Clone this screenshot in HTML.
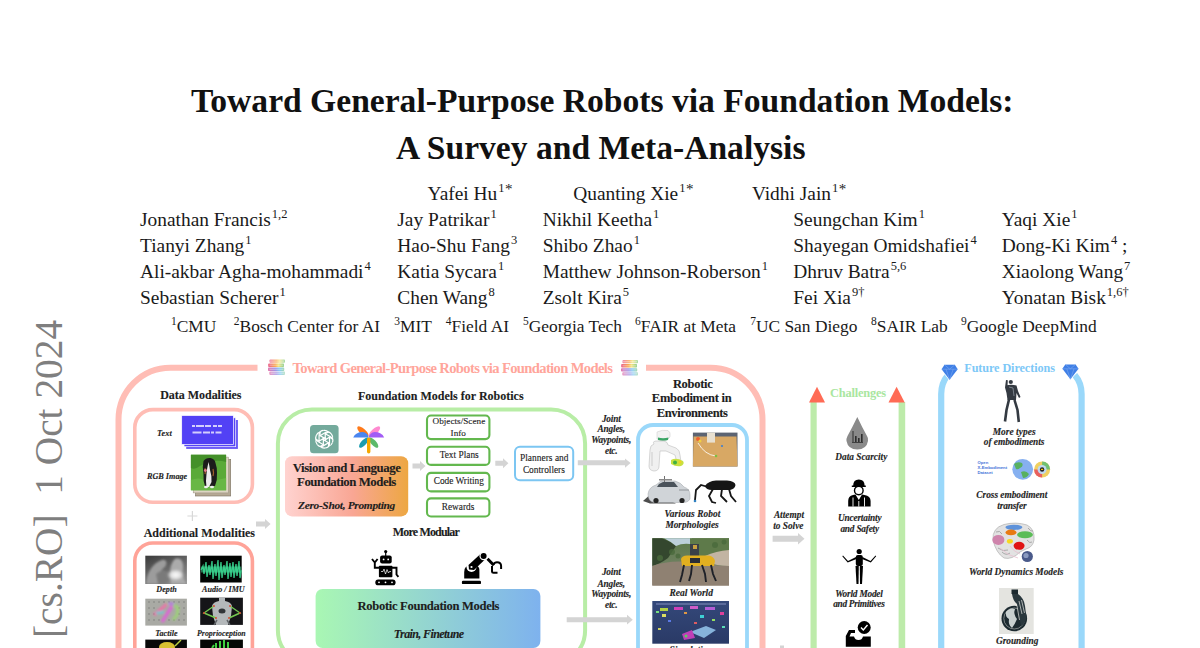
<!DOCTYPE html>
<html><head><meta charset="utf-8">
<style>
*{margin:0;padding:0;box-sizing:border-box}
html,body{width:1200px;height:648px;overflow:hidden;background:#fff}
body{position:relative;font-family:"Liberation Serif",serif;color:#000}
.a{position:absolute;white-space:nowrap;line-height:1}
.t{font-weight:bold;font-size:33.6px;color:#111}
.au{font-size:19.4px;color:#1a1a1a}
.au sup,.af sup{font-size:12.5px;vertical-align:0;position:relative;top:-8px;margin-left:1px}
.af{font-size:17.4px;color:#1a1a1a}
.af sup{font-size:11.5px;top:-7px}
#fig{position:absolute;left:0;top:0}
.b{font-weight:bold;color:#222;letter-spacing:-0.02em}
.c{text-align:center}
.bi{font-weight:bold;font-style:italic;color:#222}
.fx div{-webkit-text-stroke:0.12px currentColor}
</style></head><body>
<div class="a t" style="left:191px;top:84.4px">Toward General-Purpose Robots via Foundation Models:</div>
<div class="a t" style="left:396px;top:130.9px">A Survey and Meta-Analysis</div>

<div class="a au" style="left:427.6px;top:183.7px">Yafei Hu<sup>1<span style="position:relative;top:2.5px;font-size:15px;margin-left:0.5px">*</span></sup></div>
<div class="a au" style="left:573.2px;top:183.7px">Quanting Xie<sup>1<span style="position:relative;top:2.5px;font-size:15px;margin-left:0.5px">*</span></sup></div>
<div class="a au" style="left:751.9px;top:183.7px">Vidhi Jain<sup>1<span style="position:relative;top:2.5px;font-size:15px;margin-left:0.5px">*</span></sup></div>

<div class="a au" style="left:140px;top:209.6px">Jonathan Francis<sup>1,2</sup></div>
<div class="a au" style="left:140px;top:235.7px">Tianyi Zhang<sup>1</sup></div>
<div class="a au" style="left:140px;top:261.7px">Ali-akbar Agha-mohammadi<sup>4</sup></div>
<div class="a au" style="left:140px;top:287.8px">Sebastian Scherer<sup>1</sup></div>

<div class="a au" style="left:397.3px;top:209.6px">Jay Patrikar<sup>1</sup></div>
<div class="a au" style="left:397.3px;top:235.7px">Hao-Shu Fang<sup>3</sup></div>
<div class="a au" style="left:397.3px;top:261.7px">Katia Sycara<sup>1</sup></div>
<div class="a au" style="left:397.3px;top:287.8px">Chen Wang<sup>8</sup></div>

<div class="a au" style="left:542.7px;top:209.6px">Nikhil Keetha<sup>1</sup></div>
<div class="a au" style="left:542.7px;top:235.7px">Shibo Zhao<sup>1</sup></div>
<div class="a au" style="left:542.7px;top:261.7px">Matthew Johnson-Roberson<sup>1</sup></div>
<div class="a au" style="left:542.7px;top:287.8px">Zsolt Kira<sup>5</sup></div>

<div class="a au" style="left:793.3px;top:209.6px">Seungchan Kim<sup>1</sup></div>
<div class="a au" style="left:793.3px;top:235.7px">Shayegan Omidshafiei<sup>4</sup></div>
<div class="a au" style="left:793.3px;top:261.7px">Dhruv Batra<sup>5,6</sup></div>
<div class="a au" style="left:793.3px;top:287.8px">Fei Xia<sup>9&#8224;</sup></div>

<div class="a au" style="left:1001.7px;top:209.6px">Yaqi Xie<sup>1</sup></div>
<div class="a au" style="left:1001.7px;top:235.7px">Dong-Ki Kim<sup>4</sup> ;</div>
<div class="a au" style="left:1001.7px;top:261.7px">Xiaolong Wang<sup>7</sup></div>
<div class="a au" style="left:1001.7px;top:287.8px">Yonatan Bisk<sup>1,6&#8224;</sup></div>

<div class="a af" style="left:170px;top:318.4px"><sup>1</sup>CMU</div>
<div class="a af" style="left:232.8px;top:318.4px"><sup>2</sup>Bosch Center for AI</div>
<div class="a af" style="left:393.2px;top:318.4px"><sup>3</sup>MIT</div>
<div class="a af" style="left:444.8px;top:318.4px"><sup>4</sup>Field AI</div>
<div class="a af" style="left:522px;top:318.4px"><sup>5</sup>Georgia Tech</div>
<div class="a af" style="left:634px;top:318.4px"><sup>6</sup>FAIR at Meta</div>
<div class="a af" style="left:749.2px;top:318.4px"><sup>7</sup>UC San Diego</div>
<div class="a af" style="left:870px;top:318.4px"><sup>8</sup>SAIR Lab</div>
<div class="a af" style="left:960px;top:318.4px"><sup>9</sup>Google DeepMind</div>

<!-- arXiv sidebar -->
<div class="a" style="left:29.4px;top:637.5px;transform-origin:0 0;transform:rotate(-90deg) scaleX(0.984);font-size:40px;color:#7f7f7f;">
<span style="display:inline-block;">[cs.RO]&nbsp;&nbsp;1 Oct 2024</span></div>

<svg id="fig" width="1200" height="648" viewBox="0 0 1200 648">
<defs>
<linearGradient id="gv" x1="0" x2="1" y1="0" y2="0"><stop offset="0" stop-color="#FFD3D0"/><stop offset="0.55" stop-color="#F9A694"/><stop offset="1" stop-color="#EDA742"/></linearGradient>
<linearGradient id="gr" x1="0" x2="1" y1="0" y2="0"><stop offset="0" stop-color="#A9F7B3"/><stop offset="1" stop-color="#7EB2EE"/></linearGradient>
<linearGradient id="gb" x1="0" x2="1" y1="0" y2="1"><stop offset="0" stop-color="#F47070"/><stop offset="0.35" stop-color="#F8D060"/><stop offset="0.6" stop-color="#80D8A0"/><stop offset="1" stop-color="#6088E0"/></linearGradient>
</defs>
<g fill="none" stroke="#FFBDB5" stroke-width="6">
<path d="M257.5 367.7H170.5A52 52 0 0 0 118.5 419.7V720"/>
<path d="M646 367.7H710.5A52 52 0 0 1 762.5 419.7V720"/>
</g>
<g fill="none" stroke="#FFBDB5" stroke-width="3.6">
<rect x="134.8" y="409.6" width="117.6" height="92.6" rx="18"/>
<rect x="134.8" y="543" width="117.6" height="200" rx="18" stroke="#FFA398"/>
</g>
<rect x="277.9" y="409.4" width="307.2" height="255" rx="34" fill="none" stroke="#B8EDA6" stroke-width="4"/>
<rect x="638" y="425" width="109" height="300" rx="15" fill="none" stroke="#9AD8FA" stroke-width="3.8"/>
<!-- challenges bars -->
<rect x="810.5" y="402" width="6.2" height="260" fill="#BDEBAA"/>
<rect x="898.6" y="402" width="6.6" height="260" fill="#BDEBAA"/>
<path d="M809 402.4L817 386.7L825 402.4Z" fill="#FF6B55"/>
<path d="M888.5 402.4L896.6 386.7L904.7 402.4Z" fill="#FF6B55"/>
<!-- future bars -->
<g fill="none" stroke="#9AD8FA" stroke-width="6.2">
<path d="M941.2 720V394Q941.2 383 948 375"/>
<path d="M1081.6 720V394Q1081.6 383 1074.8 375"/>
</g>
<!-- gradient boxes -->
<rect x="285" y="456.2" width="123.2" height="60.2" rx="7" fill="url(#gv)"/>
<rect x="315.6" y="589" width="224.8" height="59" rx="7" fill="url(#gr)"/>
<!-- small green boxes -->
<g fill="#fff" stroke="#63B84E" stroke-width="2.1">
<rect x="427" y="415.5" width="62.4" height="23.6" rx="4"/>
<rect x="427" y="446.8" width="62.4" height="18.1" rx="4"/>
<rect x="427" y="472.9" width="62.4" height="18.5" rx="4"/>
<rect x="427" y="498.4" width="62.4" height="18.1" rx="4"/>
</g>
<rect x="515" y="446.8" width="58.2" height="33.5" rx="5" fill="#fff" stroke="#7CC6F2" stroke-width="2"/>
<!-- arrows -->
<g fill="#D4D4D4">
<path d="M256 521.4H265V518.9L270.6 523.9L265 528.9V526.4H256Z"/>
<path d="M412.5 463.5H420V461L425.5 466L420 471V468.5H412.5Z"/>
<path d="M495.3 460.7H503V458.2L508.4 463.2L503 468.2V465.7H495.3Z"/>
<path d="M577.8 460.3H625V458.4L630.6 463L625 467.8V465.3H577.8Z"/>
<path d="M566.7 617.2H627V614.8L632.8 619.7L627 624.6V622.2H566.7Z"/>
<path d="M772.6 535.8H798V533L804.5 538.8L798 544.5V541.8H772.6Z"/>
<rect x="780" y="645.5" width="4" height="3"/>
<path d="M187.4 515.4h4.4v-4.4h1.2v4.4h4.4v1.2h-4.4v4.4h-1.2v-4.4h-4.4z" fill="#D8D8D8"/>
</g>
<!-- text card stack -->
<rect x="186.2" y="420" width="51.7" height="28.9" fill="#6655F6"/>
<rect x="184" y="417.8" width="51.7" height="28.9" fill="#5544F5" stroke="#fff" stroke-width="0.7"/>
<rect x="181.7" y="415.5" width="51.7" height="28.9" fill="#5241F5" stroke="#fff" stroke-width="0.7"/>
<g fill="#fff" opacity="0.75">
<rect x="192" y="425" width="3" height="2"/><rect x="196" y="425" width="8" height="2"/><rect x="205" y="425" width="6" height="2"/><rect x="213" y="425" width="4" height="2"/><rect x="218" y="425" width="4" height="2"/>
<rect x="192.5" y="431.5" width="9" height="2"/><rect x="203" y="431.5" width="7" height="2"/><rect x="211" y="431.5" width="3" height="2"/><rect x="215.5" y="431.5" width="6" height="2"/>
</g>
<!-- dog photo stack -->
<rect x="195.5" y="459.5" width="35.2" height="36.5" fill="#B5A994" stroke="#7A7060" stroke-width="0.6"/>
<rect x="193.2" y="457.1" width="35.2" height="35.8" fill="#DDD5C3" stroke="#9A9080" stroke-width="0.5"/>
<rect x="190.9" y="454.7" width="35.2" height="35.6" fill="#5AAA38"/>
<path d="M190.9 454.7H226.1V462Q214 458 200 466Q195 470 190.9 468Z" fill="#3E8A26" opacity="0.8"/>
<path d="M190.9 480Q200 476 208 482L226.1 478V490.3H190.9Z" fill="#6CBA48" opacity="0.8"/>
<path d="M203.5 461Q206 457.5 210.5 458Q215 459 215.5 463Q217 467 217 473Q217.5 480 215 486H205Q203 481 203.5 474Q202 467 203.5 461Z" fill="#1C1C1C"/>
<path d="M208.5 462Q209.5 466 210 470Q212 476 211.5 482L209 487H206.5Q205.5 481 206.5 474Q207 468 208.5 462Z" fill="#EDEDED"/>
<path d="M205 468Q206 471 205 474" stroke="#A0602A" stroke-width="1.2" fill="none"/>
<path d="M213 469Q214 473 213 476" stroke="#A0602A" stroke-width="1.2" fill="none"/>
<ellipse cx="205.4" cy="470.5" rx="1.5" ry="1.4" fill="#E07C86"/>
<ellipse cx="206" cy="487" rx="2" ry="1.3" fill="#F0F0F0"/><ellipse cx="212" cy="487" rx="2" ry="1.3" fill="#F0F0F0"/>
<!-- depth -->
<defs>
<radialGradient id="dp1" cx="0.73" cy="0.68" r="0.22"><stop offset="0" stop-color="#FFFFFF"/><stop offset="0.6" stop-color="#E8E8E8" stop-opacity="0.8"/><stop offset="1" stop-color="#B0B0B0" stop-opacity="0"/></radialGradient>
<linearGradient id="dp0" x1="0" y1="0" x2="0.6" y2="1"><stop offset="0" stop-color="#3A3A3A"/><stop offset="1" stop-color="#8A8A8A"/></linearGradient>
<filter id="bl" x="-10%" y="-10%" width="120%" height="120%"><feGaussianBlur stdDeviation="0.9"/></filter>
<filter id="bl2" x="-10%" y="-30%" width="120%" height="160%"><feGaussianBlur stdDeviation="0.5"/></filter>
<clipPath id="cpd"><rect x="145.3" y="555.7" width="41.6" height="28.3"/></clipPath>
<clipPath id="cpa"><rect x="200.2" y="555.7" width="41.5" height="26.8"/></clipPath>
</defs>
<rect x="145.3" y="555.7" width="41.6" height="28.3" fill="url(#dp0)"/>
<g clip-path="url(#cpd)" filter="url(#bl)">
<path d="M146 584C147 572 153 563 162 560C166 559 168 563 165 567C160 570 158 577 160 584Z" fill="#9C9C9C"/>
<path d="M156 574Q162 568 168 572Q170 578 166 584H158Z" fill="#7A7A7A"/>
<path d="M171 584C169 574 170 563 175 559C181 557 184 562 183 569C182 576 184 580 186.9 584Z" fill="#ABABAB"/>
<rect x="145.3" y="555.7" width="41.6" height="28.3" fill="url(#dp1)"/>
</g>
<!-- audio -->
<rect x="200.2" y="555.7" width="41.5" height="26.8" fill="#030503"/>
<g clip-path="url(#cpa)" filter="url(#bl2)">
<path d="M201 570L203 566L204 574L206 562L207 577L209 565L210 575L212 561L213 579L215 564L216 576L218 560L219 580L221 562L222 578L224 565L225 575L227 561L228 579L230 563L231 577L233 562L234 578L236 564L237 576L239 561L240 578L241.5 570" fill="none" stroke="#38D892" stroke-width="1.4" opacity="0.85"/>
<rect x="201" y="566.5" width="40.5" height="6" fill="#40E09A" opacity="0.5"/>
</g>
<!-- tactile -->
<rect x="145.3" y="598.7" width="41.6" height="26.9" fill="#A9AAA4"/>
<g fill="#555" opacity="0.6">
<circle cx="149" cy="602" r="0.7"/><circle cx="154" cy="602" r="0.7"/><circle cx="159" cy="602" r="0.7"/><circle cx="164" cy="602" r="0.7"/><circle cx="169" cy="602" r="0.7"/><circle cx="174" cy="602" r="0.7"/><circle cx="179" cy="602" r="0.7"/><circle cx="184" cy="602" r="0.7"/>
<circle cx="149" cy="608" r="0.7"/><circle cx="154" cy="608" r="0.7"/><circle cx="179" cy="608" r="0.7"/><circle cx="184" cy="608" r="0.7"/>
<circle cx="149" cy="614" r="0.7"/><circle cx="154" cy="614" r="0.7"/><circle cx="179" cy="614" r="0.7"/><circle cx="184" cy="614" r="0.7"/>
<circle cx="149" cy="620" r="0.7"/><circle cx="154" cy="620" r="0.7"/><circle cx="159" cy="620" r="0.7"/><circle cx="169" cy="620" r="0.7"/><circle cx="174" cy="620" r="0.7"/><circle cx="179" cy="620" r="0.7"/><circle cx="184" cy="620" r="0.7"/>
</g>
<g filter="url(#bl)" opacity="0.85">
<path d="M154 615L167 604" stroke="#F070A8" stroke-width="3.4" fill="none"/>
<path d="M167 604L172 603.5L178 608L177 615L173 620" stroke="#9BD870" stroke-width="3.2" fill="none" opacity="0.9"/>
<path d="M168 603.5L174 604" stroke="#B878E8" stroke-width="3.2" fill="none"/>
<path d="M172 606L162 622" stroke="#E060D8" stroke-width="3.4" fill="none"/>
<path d="M156 613L164 612" stroke="#70C8D8" stroke-width="2.6" fill="none"/>
</g>
<!-- proprio -->
<rect x="200.2" y="597.7" width="42.7" height="27.2" fill="#151518"/>
<g filter="url(#bl2)">
<path d="M219 597.7H225V601Q231 602 232 606L231 616L228 624.9H216L213 616L212 606Q213 602 219 601Z" fill="#B4B8BA"/>
<ellipse cx="222" cy="611" rx="3.5" ry="2.5" fill="#303438"/>
<path d="M217 620L214 624.9M227 620L230 624.9" stroke="#606468" stroke-width="1.5"/>
<path d="M214 606L204 613L216 618M230 606L240 613L229 618" fill="none" stroke="#74C850" stroke-width="1.4"/>
</g>
<g fill="#E04030"><circle cx="214" cy="606" r="0.9"/><circle cx="204" cy="613" r="0.9"/><circle cx="216" cy="618" r="0.9"/><circle cx="230" cy="606" r="0.9"/><circle cx="240" cy="613" r="0.9"/><circle cx="229" cy="618" r="0.9"/></g>
<!-- bottom row -->
<rect x="145.3" y="639.6" width="41.6" height="9" fill="#080808"/>
<ellipse cx="167" cy="647" rx="8" ry="5" fill="#D8C030"/>
<path d="M175 646L181 640" stroke="#B8D040" stroke-width="1.5"/>
<rect x="200.2" y="639.6" width="42.7" height="9" fill="#050805"/>
<path d="M216 648V643M220 648V641M224 648V640M228 648V642M212 648L214 645" stroke="#40D040" stroke-width="2"/>
<!-- chatgpt -->
<rect x="310" y="425" width="28.6" height="28.3" rx="3.5" fill="#74AA9C"/>
<g fill="none" stroke="#fff" stroke-width="1.25" transform="translate(324.3 439.2) scale(0.95)"><path d="M-1.2 -9.2Q-5.5 -8.5 -5.5 -4.5V2.6" transform="rotate(0)"/><path d="M-1.2 -9.2Q2.2 -9.8 4.2 -7.6L1 -5.8V2" transform="rotate(0)"/><path d="M-1.2 -9.2Q-5.5 -8.5 -5.5 -4.5V2.6" transform="rotate(60)"/><path d="M-1.2 -9.2Q2.2 -9.8 4.2 -7.6L1 -5.8V2" transform="rotate(60)"/><path d="M-1.2 -9.2Q-5.5 -8.5 -5.5 -4.5V2.6" transform="rotate(120)"/><path d="M-1.2 -9.2Q2.2 -9.8 4.2 -7.6L1 -5.8V2" transform="rotate(120)"/><path d="M-1.2 -9.2Q-5.5 -8.5 -5.5 -4.5V2.6" transform="rotate(180)"/><path d="M-1.2 -9.2Q2.2 -9.8 4.2 -7.6L1 -5.8V2" transform="rotate(180)"/><path d="M-1.2 -9.2Q-5.5 -8.5 -5.5 -4.5V2.6" transform="rotate(240)"/><path d="M-1.2 -9.2Q2.2 -9.8 4.2 -7.6L1 -5.8V2" transform="rotate(240)"/><path d="M-1.2 -9.2Q-5.5 -8.5 -5.5 -4.5V2.6" transform="rotate(300)"/><path d="M-1.2 -9.2Q2.2 -9.8 4.2 -7.6L1 -5.8V2" transform="rotate(300)"/></g>
<!-- palm -->
<g transform="translate(368.7 437.4)">
<ellipse cx="-5.8" cy="-5.8" rx="7.2" ry="2.8" transform="rotate(42 -5.8 -5.8)" fill="#FF7A1A"/>
<ellipse cx="5.8" cy="-5.8" rx="7.2" ry="2.8" transform="rotate(-42 5.8 -5.8)" fill="#FF8AD0"/>
<path d="M0 0H-15.5Q-13 -5.5 -6 -5.5Q-1 -5 0 0Z" fill="#4A86F0"/>
<path d="M0 0H15.5Q13 -5.5 6 -5.5Q1 -5 0 0Z" fill="#A25CF5"/>
<ellipse cx="-4.8" cy="5.2" rx="6.6" ry="2.6" transform="rotate(-48 -4.8 5.2)" fill="#1A9CB0"/>
<ellipse cx="4.8" cy="5.2" rx="6.6" ry="2.6" transform="rotate(48 4.8 5.2)" fill="#5DBA6A"/>
<rect x="-1.7" y="0" width="3.4" height="16" rx="1.7" fill="#F5A800"/>
</g>
<!-- robot icon -->
<g fill="#000">
<circle cx="385.7" cy="551.6" r="1.6"/>
<rect x="385.1" y="552" width="1.2" height="4"/>
<rect x="380.1" y="555.4" width="11.6" height="8" rx="2"/>
<rect x="378.9" y="565.8" width="13.5" height="11.5" rx="0.8"/>
<rect x="375.3" y="579.4" width="20.3" height="5.9" rx="2.9"/>


</g>
<g fill="#fff">
<circle cx="383.6" cy="559.4" r="0.9"/><circle cx="388.2" cy="559.4" r="0.9"/>
<circle cx="379" cy="582.3" r="0.9"/><circle cx="385.5" cy="582.3" r="0.9"/><circle cx="392" cy="582.3" r="0.9"/>
</g>
<path d="M381 571.5L383 571.5L384 569L385.5 574L387 569.5L388.5 573L389.5 571.5H391" fill="none" stroke="#fff" stroke-width="0.7"/>
<path d="M379 567.8H374.8V562.5M372 559L374.8 562.5L377.6 559M392 567.8H396.5V574.5L398.4 576.8" fill="none" stroke="#000" stroke-width="1.9"/>
<!-- robot arm icon -->
<g fill="#000">
<rect x="461.9" y="580.7" width="19.1" height="3.4" rx="1.2"/>
<path d="M464.2 578.5V572Q464.2 565.5 470 565.5H475.5Q479.4 566 479.4 570V578.5Z"/>
</g>
<circle cx="471.5" cy="567" r="5" fill="#fff"/>
<path d="M469 569.5L468.5 565L481 553.5L486 558.5L474 570Z" fill="#000"/>
<circle cx="483.6" cy="556.1" r="4.2" fill="#fff"/>
<circle cx="483.6" cy="556.1" r="3" fill="#000"/>
<circle cx="471.5" cy="567" r="1.1" fill="#fff"/>
<path d="M487.5 558.8L493.8 565.2" stroke="#000" stroke-width="3"/>
<path d="M493 565Q494.5 562.3 497 562.3Q501.1 562.3 501.1 566V569" fill="none" stroke="#000" stroke-width="2"/>
<path d="M492 566V571.6Q492 572.8 493.5 572.8H497.5" fill="none" stroke="#000" stroke-width="2"/>
<!-- books -->
<defs>
<linearGradient id="bk" x1="0" x2="1" y1="0" y2="0"><stop offset="0" stop-color="#E85080"/><stop offset="0.45" stop-color="#F8A040"/><stop offset="0.65" stop-color="#F0E070"/><stop offset="1" stop-color="#80C880"/></linearGradient>
<linearGradient id="bk2" x1="0" x2="1" y1="0" y2="0"><stop offset="0" stop-color="#E060A0"/><stop offset="0.45" stop-color="#9080E0"/><stop offset="0.7" stop-color="#70C0F0"/><stop offset="1" stop-color="#90D0A0"/></linearGradient>
</defs>
<g id="books">
<rect x="269.5" y="359.5" width="15.5" height="3.2" rx="0.8" fill="url(#bk)" opacity="0.7"/>
<rect x="268.2" y="363.4" width="15.8" height="3.6" rx="0.8" fill="url(#bk)" opacity="0.9"/>
<rect x="268" y="367.6" width="16.2" height="3.4" rx="0.8" fill="url(#bk2)" opacity="0.85"/>
<rect x="269.3" y="371.6" width="15.7" height="3.3" rx="0.8" fill="url(#bk2)" opacity="0.65"/>
<path d="M270 361.1H284M269.5 365.2H283.5M269.5 369.3H283.5M270.5 373.2H284.5" stroke="#fff" stroke-width="0.5" opacity="0.8"/>
</g>
<use href="#books" transform="translate(353 0.6)"/>
<!-- diamonds -->
<g id="dia">
<path d="M941.6 369.2L944.5 364.8H954.8L957.7 369.2L949.6 379.7Z" fill="#3F7FE6" stroke="#fff" stroke-width="1.6" paint-order="stroke"/>
<path d="M944.5 364.8L949.6 369.2L954.8 364.8M941.6 369.2H957.7M946 369.2L949.6 379.7L953.2 369.2" fill="none" stroke="#86B0F2" stroke-width="0.5"/>
</g>
<use href="#dia" transform="translate(120.8 -0.4)"/>
<!-- embodiment images -->
<!-- robot arm white -->
<g>
<path d="M657 432Q662 429.5 668 430.5Q671 432 670 437L667 440Q661 441 657 439Z" fill="#F2F2F2" stroke="#C8C8C8" stroke-width="0.5"/>
<path d="M658 437.5Q663 439 668.5 437.5L668 440Q663 441.5 658 440Z" fill="#3BA565"/>
<path d="M654 444Q652 441 657 441H664Q668 442 668 445L676 448Q680 450 680 455L681 462L677 463L675 455L666 451L660 451L659 466Q659 471 654 471Q649 470.5 649 466L650 450Q650 445 654 444Z" fill="#F0F0F0" stroke="#BDBDBD" stroke-width="0.6"/>
<path d="M652 452V466" stroke="#D8D8D8" stroke-width="1.5"/>
<path d="M671 460Q676 457 683 461Q685 464 681 466Q676 467 671 464Z" fill="#C8E040"/>
<circle cx="675" cy="462.5" r="2" fill="#40B040"/><circle cx="680" cy="462" r="1.5" fill="#F0D020"/>
</g>
<!-- table -->
<rect x="692.9" y="432.6" width="44.6" height="33.9" fill="#5C6472"/>
<path d="M693.5 436.5H736.5L737.5 466.5H692.9Z" fill="#D8A864"/>
<rect x="707" y="432.6" width="8" height="10" fill="#E8E0D0"/>
<circle cx="698" cy="439" r="2" fill="#F06030"/><circle cx="700" cy="441" r="1.5" fill="#F0D040"/>
<path d="M698 443Q705 455 716 456" fill="none" stroke="#fff" stroke-width="0.8"/>
<circle cx="716" cy="456" r="1.3" fill="#7CC040"/><circle cx="722" cy="446" r="1.1" fill="#4080D0"/>
<!-- car -->
<path d="M643 501L652 493L664 498L676 503.5H650Z" fill="#2E2E2E" opacity="0.85"/>
<path d="M648 494Q649 487 656 485L661 481H675Q681 482.5 684 487Q690 489 690 495V499Q688 503 681 502.5H654Q648 501.5 648 494Z" fill="#D0D4D8" stroke="#A0A4A8" stroke-width="0.5"/>
<path d="M659 484L663 482H674L678 487H657Z" fill="#4A525A"/>
<path d="M679 490H689" stroke="#909498" stroke-width="1"/>
<rect x="664" y="476" width="1" height="6" fill="#707070"/><rect x="659" y="479" width="13" height="1.5" fill="#8A8A8A"/>
<circle cx="656" cy="500.5" r="2.6" fill="#252525"/><circle cx="682" cy="500.5" r="2.6" fill="#252525"/>
<!-- dog robot black -->
<path d="M705 486Q708 481 716 480.5H727Q735 481 735.5 485Q735 489 730 490H712Q706 490 705 486Z" fill="#161616"/>
<path d="M708 487L701 485L696 490L695 500M713 489L709 496L712 502L716 503M722 489L721 496L727 502M729 489L731 496L736 502" fill="none" stroke="#161616" stroke-width="1.8"/>
<circle cx="695" cy="501" r="1.3" fill="#3080C0"/>
<!-- real world -->
<defs>
<linearGradient id="rw" x1="0" x2="0" y1="0" y2="1"><stop offset="0" stop-color="#5A7A48"/><stop offset="0.55" stop-color="#6E8060"/><stop offset="0.7" stop-color="#948270"/><stop offset="1" stop-color="#857668"/></linearGradient>
<linearGradient id="sim" x1="0" x2="0" y1="0" y2="1"><stop offset="0" stop-color="#34487A"/><stop offset="1" stop-color="#2A3A66"/></linearGradient>
</defs>
<rect x="652.3" y="538.2" width="76.7" height="47.3" fill="url(#rw)"/>
<path d="M652.3 538.2H662Q670 541 676 546Q672 552 668 558Q660 564 652.3 566Z" fill="#34472E"/>
<path d="M664 538.2H692L690 544Q682 543 676 546Q670 541 664 538.2Z" fill="#BCD0DA"/>
<path d="M690 538.2H729V552Q715 556 700 558L690 552Z" fill="#5E7A4A"/>
<path d="M705 556Q716 551 729 550V566Q716 566 708 562Z" fill="#C2B4A2"/>
<path d="M652.3 566Q668 560 690 562Q712 566 729 566V585.5H652.3Z" fill="#8F8172"/>
<path d="M690 544H699V556H690Z" fill="#3A4048"/>
<path d="M693 545H697V549H693Z" fill="#C8A040"/>
<path d="M681 559Q682 555.5 687 555.5H709Q714 556.5 715 561L714 566H682Z" fill="#E2B020"/>
<path d="M690 558H700V563H690Z" fill="#2A2E36"/>
<path d="M684 565L682 575L680 582M692 565L691 574L689 581M702 565L705 574L706 582M711 565L713 574L716 581" fill="none" stroke="#1E2128" stroke-width="1.9"/>
<g fill="#4A6A3C" opacity="0.8"><circle cx="672" cy="552" r="3"/><circle cx="678" cy="556" r="2.5"/><circle cx="660" cy="558" r="3"/><circle cx="715" cy="545" r="3"/><circle cx="724" cy="542" r="2.5"/></g>
<!-- simulation -->
<rect x="652.3" y="601" width="76.7" height="42.7" fill="url(#sim)"/>
<g opacity="0.9">
<rect x="656" y="603" width="70" height="2" fill="#6070A0"/>
<rect x="660" y="608" width="8" height="3" fill="#C0E040"/><rect x="674" y="607" width="9" height="3" fill="#E040C0"/><rect x="690" y="606" width="8" height="3" fill="#E060D0"/><rect x="705" y="607" width="10" height="3" fill="#C060E0"/>
<rect x="662" y="614" width="4" height="3" fill="#F0F060"/><rect x="700" y="615" width="4" height="3" fill="#40E0E0"/><rect x="720" y="612" width="4" height="3" fill="#F040A0"/>
<rect x="656" y="611" width="3" height="2" fill="#80F080"/><rect x="684" y="612" width="3" height="2" fill="#F0A040"/><rect x="712" y="619" width="3" height="2" fill="#A0F060"/><rect x="668" y="620" width="3" height="2" fill="#6080F0"/><rect x="694" y="622" width="3" height="2" fill="#F06060"/><rect x="722" y="626" width="3" height="2" fill="#60F0C0"/><rect x="658" y="628" width="3" height="2" fill="#E0E060"/>
<path d="M690 632L706 626L716 630L704 638Z" fill="#90C0E8"/>
<path d="M682 634L692 630L695 638L684 640Z" fill="#D040C0"/>
<circle cx="686" cy="636" r="1.5" fill="#60E060"/>
</g>
<!-- drop -->
<path d="M857.3 417Q852 428 847.5 436Q846 439 846.5 441Q848 449.5 857.3 449.5Q866.5 449.5 868 441Q868.5 438 867 436Q862.5 428 857.3 417Z" fill="#8A8A8A"/>
<g fill="#2E2E2E">
<rect x="852" y="442" width="11" height="0.8"/>
<rect x="852.5" y="431" width="1" height="11"/>
<rect x="855" y="436" width="1.6" height="6"/><rect x="858" y="438" width="1.6" height="4"/><rect x="861" y="434" width="1.6" height="8"/>
</g>
<!-- worker -->
<g fill="#000">
<path d="M853.2 485.5Q853.2 479.5 858.8 479.5Q864.6 479.5 864.6 485.5H865.8V487H851.8V485.5Z"/>
<path d="M848.2 506.6V501Q848.2 496.2 853 495L855.5 494.5L858.8 500L862 494.5L864.5 495Q870.6 496.2 870.6 501V506.6Z"/>
</g>
<circle cx="858.8" cy="490.5" r="4.3" fill="#fff" stroke="#000" stroke-width="1.4"/>
<path d="M853 497.5V506.6M864.5 497.5V506.6M858.8 501V506.6" stroke="#fff" stroke-width="0.9"/>
<!-- puppet -->
<g fill="#000">
<circle cx="859.2" cy="551.5" r="2.6"/>
<rect x="855.8" y="555" width="7" height="11" rx="2"/>
<path d="M856 557L848 561L843 555.5L842.3 556.2L847.7 562.6L856.5 559Z"/>
<path d="M862.5 557L870.5 561L875.5 555.5L876.2 556.2L870.8 562.6L862 559Z"/>
<path d="M855.5 566H858.8L858.5 584H856.5Z"/>
<path d="M859.8 566H863L862 584H860Z"/>
</g>
<!-- inbox check -->
<g fill="#000">
<path d="M845.8 646.7V636L849 630H855V633H851L849.5 636.5H854Q855 640 858.5 640Q862 640 863 636.5H870.8V646.7Z"/>
<circle cx="864.2" cy="627.5" r="6.5"/>
</g>
<path d="M861 627.5L863.3 630L867.5 625" fill="none" stroke="#fff" stroke-width="1.4"/>
<!-- humanoid -->
<g fill="#343A42">
<circle cx="1010.8" cy="382" r="2.1"/>
<path d="M1006 385.5Q1011 384 1016.5 385.5L1018 391L1020.5 397L1019 398L1016.5 393L1016 400H1007.5L1006.5 393L1005 387.5L1006 380L1007.8 380.3L1007.5 386Z"/>
</g>
<path d="M1009 399.5L1006.5 410L1005 421.5M1014.5 400L1017.5 410L1018.8 422" fill="none" stroke="#343A42" stroke-width="2.6"/>
<path d="M1009 387L1013 388L1014 396" fill="none" stroke="#7A828C" stroke-width="1"/>
<!-- open x -->
<g fill="#3F72D8" font-family="Liberation Sans" font-size="4.2" font-weight="bold">
<text x="977.5" y="464">Open</text>
<text x="977.5" y="469">X-Embodiment</text>
<text x="977.5" y="474">Dataset</text>
</g>
<circle cx="1022.7" cy="469.3" r="10.4" fill="#86B0F0"/>
<path d="M1014 464Q1018 461 1022 463Q1024 466 1020 468Q1018 470 1016 469Z" fill="#58B060"/>
<path d="M1021 472Q1026 470 1029 474Q1027 478 1023 478Z" fill="#58B060"/>
<circle cx="1042.1" cy="469.5" r="8" fill="#F0D060"/>
<path d="M1042.1 461.5A8 8 0 0 1 1050.1 469.5H1042.1Z" fill="#70C070"/>
<path d="M1034.1 469.5A8 8 0 0 0 1042.1 477.5V469.5Z" fill="#E86060"/>
<circle cx="1042.1" cy="469.5" r="4.5" fill="#BFD8F0"/>
<circle cx="1042.1" cy="469.5" r="2.2" fill="#222"/>
<rect x="1041" y="468.8" width="2.2" height="1.2" fill="#F0C000"/>
<!-- brain -->
<path d="M993 540Q992 528 1004 524.5Q1016 521.5 1027 525Q1035 529 1034 540Q1033 547 1026 549L1020 552Q1012 560 1004 558Q996 553 993 540Z" fill="#E2E2E2" stroke="#B0B0B0" stroke-width="0.7"/>
<path d="M996 532Q1000 530 1002 534M1027 540Q1030 544 1032 542M998 548Q1003 552 1008 550M1002 552Q1006 556 1010 553M1028 528Q1031 532 1033 531" fill="none" stroke="#9A9A9A" stroke-width="0.8"/>
<ellipse cx="1013.9" cy="527.3" rx="8.5" ry="2.6" fill="#5E92DA"/>
<ellipse cx="1011" cy="532.4" rx="5.5" ry="2.8" fill="#E87A12"/>
<ellipse cx="1025" cy="534.7" rx="8" ry="3.5" fill="#5CBC58"/>
<ellipse cx="998.4" cy="539.9" rx="6" ry="5" fill="#CF84AC"/>
<ellipse cx="1009.9" cy="541.3" rx="3" ry="2.3" fill="#F8D820"/>
<ellipse cx="1019.1" cy="545.8" rx="5.5" ry="4" fill="#E01414"/>
<path d="M1000 548Q1008 556 1018 558M1010 546Q1014 552 1020 554" fill="none" stroke="#E8C0D0" stroke-width="0.8"/>
<circle cx="1027.3" cy="556.5" r="5.6" fill="#4A5A8A"/>
<circle cx="1026" cy="555.5" r="2.6" fill="#8A9AC0"/>
<!-- grounding -->
<rect x="999" y="588" width="34.7" height="46" fill="#E4E4E0"/>
<circle cx="1014.3" cy="618.5" r="12.8" fill="#1C2A30"/>
<path d="M1006 612Q1010 607 1015 609Q1013 614 1017 619Q1015 624 1012 628Q1008 625 1009 619Q1005 617 1006 612Z" fill="#C8D0D0"/>
<circle cx="1014.3" cy="618.5" r="10.5" fill="none" stroke="#E4E4E0" stroke-width="0.8" opacity="0.6"/>
<rect x="1011.5" y="589.5" width="6.5" height="4.5" fill="#1C2A30"/>
<path d="M1012 594H1018Q1024 598 1025 606L1026.5 618Q1025 624 1021 626L1019 616L1017 604Q1013 601 1012 594Z" fill="#2A383E"/>
<path d="M1019 601L1022 614M1021.5 600L1024.5 613M1017 606L1019.5 620" stroke="#E4E4E0" stroke-width="0.7"/>

</svg>

<div class="fx"><div class="a" style="left:292.5px;top:361.00px;font-size:14.60px;font-weight:bold;-webkit-text-stroke:0;letter-spacing:-0.645px;color:#FFA59B">Toward General-Purpose Robots via Foundation Models</div>
<div class="a" style="left:160.2px;top:389.00px;font-size:12.00px;font-weight:bold;letter-spacing:-0.025px;color:#1e1e1e">Data Modalities</div>
<div class="a" style="left:143.7px;top:527.00px;font-size:12.00px;font-weight:bold;letter-spacing:-0.019px;color:#1e1e1e">Additional Modalities</div>
<div class="a" style="left:358.0px;top:390.00px;font-size:12.00px;font-weight:bold;letter-spacing:0.005px;color:#1e1e1e">Foundation Models for Robotics</div>
<div class="a" style="left:292.7px;top:462.00px;font-size:12.80px;font-weight:bold;letter-spacing:-0.399px;color:#1e1e1e">Vision and Language</div>
<div class="a" style="left:297.0px;top:476.00px;font-size:12.80px;font-weight:bold;letter-spacing:-0.439px;color:#1e1e1e">Foundation Models</div>
<div class="a" style="left:298.0px;top:500.00px;font-size:11.40px;font-weight:bold;font-style:italic;letter-spacing:-0.313px;color:#1e1e1e">Zero-Shot, Prompting</div>
<div class="a" style="left:392.7px;top:526.00px;font-size:12.00px;font-weight:bold;letter-spacing:-0.809px;color:#1e1e1e">More Modular</div>
<div class="a" style="left:357.6px;top:600.00px;font-size:12.60px;font-weight:bold;letter-spacing:-0.326px;color:#1e1e1e">Robotic Foundation Models</div>
<div class="a" style="left:393.8px;top:628.00px;font-size:12.00px;font-weight:bold;font-style:italic;letter-spacing:-0.608px;color:#1e1e1e">Train, Finetune</div>
<div class="a" style="left:432.5px;top:417.00px;font-size:9.20px;letter-spacing:0.015px;color:#1e1e1e">Objects/Scene</div>
<div class="a" style="left:450.6px;top:429.00px;font-size:9.20px;color:#1e1e1e">Info</div>
<div class="a" style="left:439.7px;top:451.00px;font-size:9.30px;letter-spacing:0.014px;color:#1e1e1e">Text Plans</div>
<div class="a" style="left:433.7px;top:477.00px;font-size:9.30px;letter-spacing:-0.013px;color:#1e1e1e">Code Writing</div>
<div class="a" style="left:441.7px;top:503.00px;font-size:9.30px;letter-spacing:0.010px;color:#1e1e1e">Rewards</div>
<div class="a" style="left:520.0px;top:454.00px;font-size:9.40px;letter-spacing:0.028px;color:#1e1e1e">Planners and</div>
<div class="a" style="left:522.9px;top:466.00px;font-size:9.40px;letter-spacing:-0.020px;color:#1e1e1e">Controllers</div>
<div class="a" style="left:601.9px;top:415.00px;font-size:9.30px;font-weight:bold;font-style:italic;letter-spacing:-0.200px;color:#1e1e1e">Joint</div>
<div class="a" style="left:597.6px;top:425.00px;font-size:9.30px;font-weight:bold;font-style:italic;letter-spacing:-0.200px;color:#1e1e1e">Angles,</div>
<div class="a" style="left:591.2px;top:436.00px;font-size:9.30px;font-weight:bold;font-style:italic;letter-spacing:-0.200px;color:#1e1e1e">Waypoints,</div>
<div class="a" style="left:605.0px;top:447.00px;font-size:9.30px;font-weight:bold;font-style:italic;letter-spacing:-0.200px;color:#1e1e1e">etc.</div>
<div class="a" style="left:601.9px;top:568.00px;font-size:9.30px;font-weight:bold;font-style:italic;letter-spacing:-0.200px;color:#1e1e1e">Joint</div>
<div class="a" style="left:597.6px;top:580.00px;font-size:9.30px;font-weight:bold;font-style:italic;letter-spacing:-0.200px;color:#1e1e1e">Angles,</div>
<div class="a" style="left:591.2px;top:590.00px;font-size:9.30px;font-weight:bold;font-style:italic;letter-spacing:-0.200px;color:#1e1e1e">Waypoints,</div>
<div class="a" style="left:605.0px;top:601.00px;font-size:9.30px;font-weight:bold;font-style:italic;letter-spacing:-0.200px;color:#1e1e1e">etc.</div>
<div class="a" style="left:672.9px;top:378.00px;font-size:12.50px;font-weight:bold;letter-spacing:-0.300px;color:#1e1e1e">Robotic</div>
<div class="a" style="left:651.8px;top:392.00px;font-size:12.50px;font-weight:bold;letter-spacing:-0.259px;color:#1e1e1e">Embodiment in</div>
<div class="a" style="left:656.8px;top:407.00px;font-size:12.50px;font-weight:bold;letter-spacing:-0.400px;color:#1e1e1e">Environments</div>
<div class="a" style="left:664.6px;top:510.00px;font-size:9.40px;font-weight:bold;font-style:italic;letter-spacing:0.065px;color:#1e1e1e">Various Robot</div>
<div class="a" style="left:665.4px;top:521.00px;font-size:9.40px;font-weight:bold;font-style:italic;letter-spacing:-0.036px;color:#1e1e1e">Morphologies</div>
<div class="a" style="left:669.4px;top:589.00px;font-size:9.50px;font-weight:bold;font-style:italic;letter-spacing:-0.014px;color:#1e1e1e">Real World</div>
<div class="a" style="left:669.4px;top:646.00px;font-size:9.50px;font-weight:bold;font-style:italic;color:#1e1e1e">Simulation</div>
<div class="a" style="left:830.0px;top:387.00px;font-size:12.40px;font-weight:bold;-webkit-text-stroke:0;letter-spacing:-0.186px;color:#A9E6A0">Challenges</div>
<div class="a" style="left:835.3px;top:453.00px;font-size:9.30px;font-weight:bold;font-style:italic;letter-spacing:0.007px;color:#1e1e1e">Data Scarcity</div>
<div class="a" style="left:838.1px;top:514.00px;font-size:9.30px;font-weight:bold;font-style:italic;letter-spacing:-0.200px;color:#1e1e1e">Uncertainty</div>
<div class="a" style="left:840.4px;top:525.00px;font-size:9.30px;font-weight:bold;font-style:italic;letter-spacing:-0.200px;color:#1e1e1e">and Safety</div>
<div class="a" style="left:835.2px;top:590.00px;font-size:9.30px;font-weight:bold;font-style:italic;letter-spacing:-0.200px;color:#1e1e1e">World Model</div>
<div class="a" style="left:833.2px;top:600.00px;font-size:9.30px;font-weight:bold;font-style:italic;letter-spacing:-0.300px;color:#1e1e1e">and Primitives</div>
<div class="a" style="left:773.9px;top:511.00px;font-size:9.30px;font-weight:bold;font-style:italic;letter-spacing:0.022px;color:#1e1e1e">Attempt</div>
<div class="a" style="left:773.2px;top:522.00px;font-size:9.30px;font-weight:bold;font-style:italic;letter-spacing:-0.003px;color:#1e1e1e">to Solve</div>
<div class="a" style="left:964.3px;top:362.00px;font-size:12.20px;font-weight:bold;-webkit-text-stroke:0;letter-spacing:-0.085px;color:#7DC8F7">Future Directions</div>
<div class="a" style="left:992.7px;top:428.00px;font-size:9.40px;font-weight:bold;font-style:italic;letter-spacing:0.050px;color:#1e1e1e">More types</div>
<div class="a" style="left:983.8px;top:438.00px;font-size:9.40px;font-weight:bold;font-style:italic;letter-spacing:-0.043px;color:#1e1e1e">of embodiments</div>
<div class="a" style="left:976.3px;top:491.00px;font-size:9.40px;font-weight:bold;font-style:italic;letter-spacing:-0.034px;color:#1e1e1e">Cross embodiment</div>
<div class="a" style="left:997.3px;top:502.00px;font-size:9.40px;font-weight:bold;font-style:italic;letter-spacing:-0.200px;color:#1e1e1e">transfer</div>
<div class="a" style="left:969.0px;top:568.00px;font-size:9.40px;font-weight:bold;font-style:italic;letter-spacing:-0.009px;color:#1e1e1e">World Dynamics Models</div>
<div class="a" style="left:995.9px;top:637.00px;font-size:9.40px;font-weight:bold;font-style:italic;letter-spacing:-0.030px;color:#1e1e1e">Grounding</div>
<div class="a" style="left:157.0px;top:430.00px;font-size:8.30px;font-weight:bold;font-style:italic;letter-spacing:0.117px;color:#1e1e1e">Text</div>
<div class="a" style="left:147.0px;top:473.00px;font-size:8.20px;font-weight:bold;font-style:italic;letter-spacing:-0.002px;color:#1e1e1e">RGB Image</div>
<div class="a" style="left:156.3px;top:586.00px;font-size:8.10px;font-weight:bold;font-style:italic;letter-spacing:0.037px;color:#1e1e1e">Depth</div>
<div class="a" style="left:202.0px;top:586.00px;font-size:8.10px;font-weight:bold;font-style:italic;letter-spacing:-0.006px;color:#1e1e1e">Audio / IMU</div>
<div class="a" style="left:155.3px;top:630.00px;font-size:8.10px;font-weight:bold;font-style:italic;letter-spacing:0.001px;color:#1e1e1e">Tactile</div>
<div class="a" style="left:197.0px;top:630.00px;font-size:7.90px;font-weight:bold;font-style:italic;letter-spacing:0.007px;color:#1e1e1e">Proprioception</div></div>
</body></html>
